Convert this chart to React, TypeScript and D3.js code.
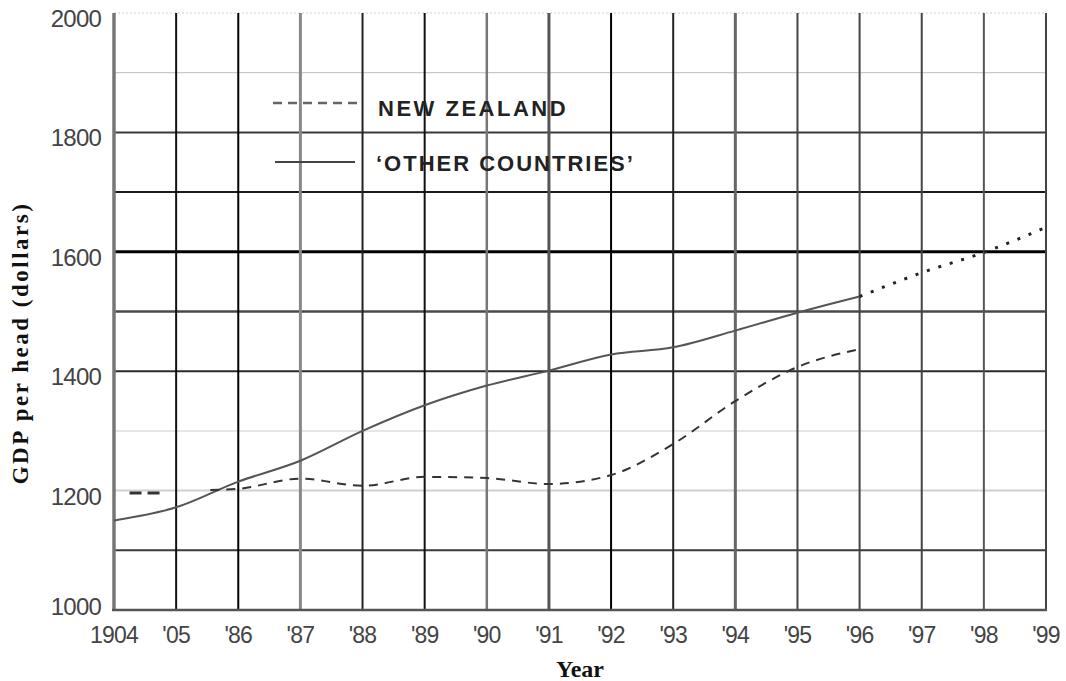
import React from "react";
import * as d3 from "d3";

const years = d3.range(1984, 2000);
const xTickLabels = ["1904", "'05", "'86", "'87", "'88", "'89", "'90", "'91", "'92", "'93", "'94", "'95", "'96", "'97", "'98", "'99"];
const yTicks = [1000, 1200, 1400, 1600, 1800, 2000];
const gridValues = [1100, 1200, 1300, 1400, 1500, 1600, 1700, 1800, 1900, 2000];

const otherYears = [1984, 1985, 1986, 1987, 1988, 1989, 1990, 1991, 1992, 1993, 1994, 1995, 1996];
const otherValues = [1150, 1172, 1215, 1250, 1300, 1343, 1376, 1401, 1428, 1440, 1468, 1498, 1525];
const projYears = [1996, 1997, 1998, 1999];
const projValues = [1525, 1565, 1599, 1641];
const nzYears = [1985.55, 1986, 1987, 1988, 1989, 1990, 1991, 1992, 1993, 1994, 1995, 1996];
const nzValues = [1201, 1203, 1220, 1208, 1223, 1221, 1211, 1226, 1278, 1350, 1407, 1437];
const nzEarlyYears = [1984.25, 1984.8];
const nzEarlyValues = [1196, 1196];

const hStyle: Record<number, { c: string; w: number; d?: string }> = {
  1100: { c: "#3a3a3a", w: 2 },
  1200: { c: "#d0d0d0", w: 2 },
  1300: { c: "#dedede", w: 1.5 },
  1400: { c: "#2a2a2a", w: 2 },
  1500: { c: "#4a4a4a", w: 2.5 },
  1600: { c: "#000", w: 3 },
  1700: { c: "#1a1a1a", w: 2 },
  1800: { c: "#3a3a3a", w: 2 },
  1900: { c: "#bdbdbd", w: 1 },
  2000: { c: "#cfcfcf", w: 1.2, d: "2,2" },
};
const vStyle = ["#777", "#111", "#000", "#888", "#222", "#111", "#777", "#555", "#000", "#222", "#666", "#444", "#444", "#444", "#555", "#444"];
const vWidth = [3.5, 2, 2, 3, 2, 2, 2.5, 3, 2, 2, 3, 2, 2, 2, 2, 2];

export default function App() {
  const x = d3.scaleLinear().domain([1984, 1999]).range([114, 1046]);
  const y = d3.scaleLinear().domain([1000, 2000]).range([610, 13]);
  const line = (xs: number[], vs: number[]) =>
    d3.line<number>().x((_, i) => x(xs[i])).y((v) => y(v)).curve(d3.curveMonotoneX)(vs) || "";
  const tickFont = "'Liberation Sans', Arial, sans-serif";
  const serif = "'Liberation Serif', 'DejaVu Serif', serif";
  return (
    <svg width={1066} height={681} style={{ position: "absolute", left: 0, top: 0, background: "#fff" }}>
      {gridValues.map((g) => (
        <line key={g} x1={x(1984)} x2={x(1999)} y1={y(g)} y2={y(g)} stroke={hStyle[g].c} strokeWidth={hStyle[g].w} strokeDasharray={hStyle[g].d} />
      ))}
      {years.map((yr, i) => (
        <line key={yr} x1={x(yr)} x2={x(yr)} y1={y(2000)} y2={y(1000)} stroke={vStyle[i]} strokeWidth={vWidth[i]} />
      ))}
      <line x1={x(1984) - 2} x2={x(1999) + 1} y1={y(1000)} y2={y(1000)} stroke="#555" strokeWidth={2.5} />
      {yTicks.map((t) => (
        <text key={t} x={101} y={y(t) + (t === 1000 ? 5 : 14)} textAnchor="end" fontFamily={tickFont} fontSize={24} fill="#444" letterSpacing={-0.8}>{t}</text>
      ))}
      {years.map((yr, i) => (
        <text key={yr} x={x(yr)} y={643} textAnchor="middle" fontFamily={tickFont} fontSize={23} fill="#444" letterSpacing={-0.8}>{xTickLabels[i]}</text>
      ))}
      <path d={line(otherYears, otherValues)} fill="none" stroke="#555" strokeWidth={2} />
      <path d={line(projYears, projValues)} fill="none" stroke="#222" strokeWidth={3} strokeDasharray="3,9" />
      <path d={line(nzYears, nzValues)} fill="none" stroke="#333" strokeWidth={2} strokeDasharray="9,7" />
      <path d={line(nzEarlyYears, nzEarlyValues)} fill="none" stroke="#333" strokeWidth={3} strokeDasharray="12,6" />
      <line x1={273} x2={360} y1={103} y2={103} stroke="#666" strokeWidth={2.5} strokeDasharray="9,6" />
      <line x1={275} x2={355} y1={162} y2={162} stroke="#444" strokeWidth={2} />
      <text x={378} y={116} fontFamily={tickFont} fontWeight="bold" fontSize={22} fill="#222" letterSpacing={2.5}>NEW ZEALAND</text>
      <text x={376} y={171} fontFamily={tickFont} fontWeight="bold" fontSize={22} fill="#222" letterSpacing={2}>‘OTHER COUNTRIES’</text>
      <text transform={`translate(28,343) rotate(-90)`} textAnchor="middle" fontFamily={serif} fontWeight="bold" fontSize={23} fill="#111" letterSpacing={2.5}>GDP per head (dollars)</text>
      <text x={580} y={677} textAnchor="middle" fontFamily={serif} fontWeight="bold" fontSize={24} fill="#111">Year</text>
    </svg>
  );
}
